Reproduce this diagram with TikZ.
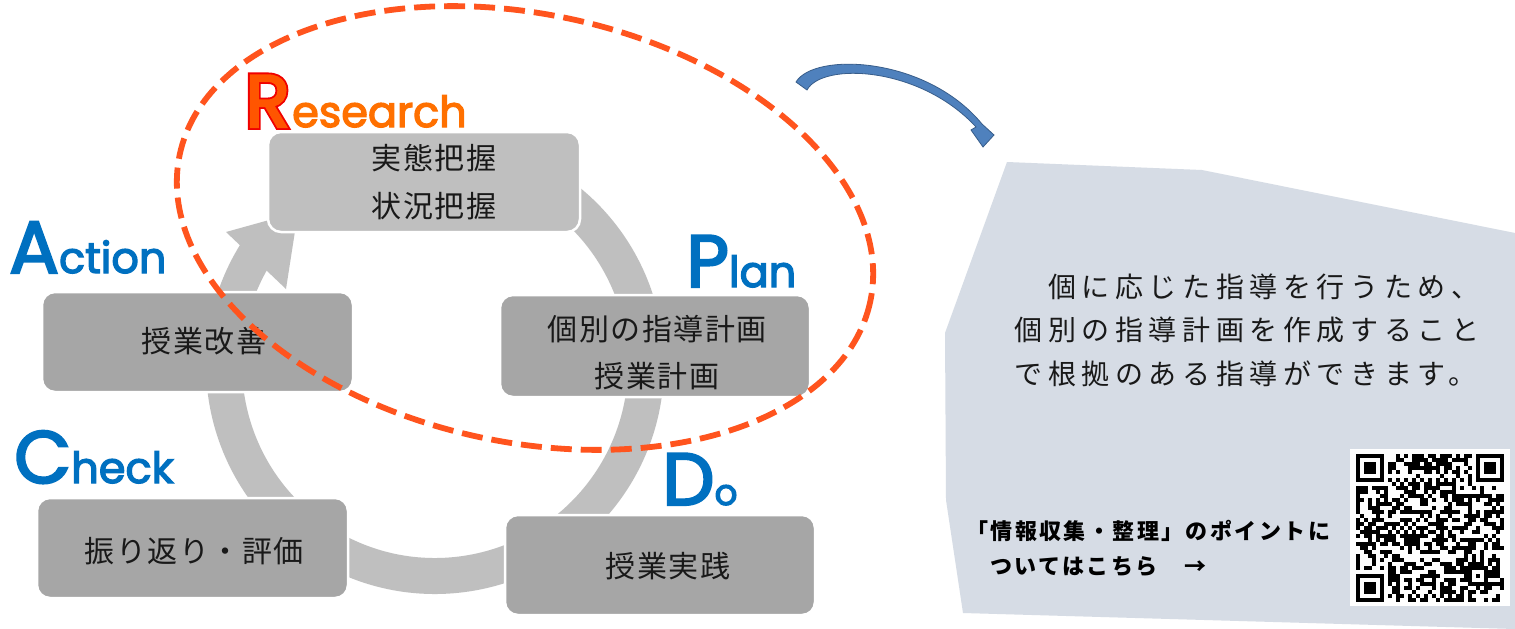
\documentclass[tikz,border=0pt]{standalone}
\usepackage{fontspec}
\newfontfamily\jpbox[LetterSpace=5]{Noto Sans CJK JP}
\newfontfamily\jpmain[LetterSpace=20]{Noto Sans CJK JP}
\newfontfamily\jpsmall[LetterSpace=11]{Noto Sans CJK JP}
\newfontfamily\lat[FakeBold=3]{Poppins}
\newfontfamily\latR[FakeBold=8]{Poppins}
\definecolor{ringgray}{RGB}{191,191,191}
\definecolor{boxgray}{RGB}{166,166,166}
\definecolor{txtdark}{RGB}{25,25,25}
\definecolor{pdcablue}{RGB}{0,112,192}
\definecolor{dashred}{RGB}{255,84,30}
\definecolor{resorange}{RGB}{255,112,0}
\definecolor{rfill}{RGB}{255,85,0}
\definecolor{redge}{RGB}{240,0,0}
\definecolor{calloutbg}{RGB}{214,220,229}
\definecolor{arrblue}{RGB}{79,129,189}
\definecolor{arredge}{RGB}{56,93,138}
\begin{document}
\begin{tikzpicture}[x=1pt,y=-1pt,
  cyclebox/.style={rounded corners=13pt,draw=white,line width=2.5pt,fill=boxgray,inner sep=0pt},
  boxtext/.style={inner sep=0pt,text=txtdark,align=center,font=\jpbox\fontsize{30}{48}\selectfont},
  pdcalabel/.style={inner sep=0pt,anchor=base west,text=pdcablue,font=\lat\fontsize{43}{43}\selectfont},
  capR/.style={inner sep=0pt,anchor=base west,font=\lat\fontsize{74}{74}\selectfont},
  qrmod/.style={fill=black}]
\useasboundingbox (0,0) rectangle (1515,629);
\fill[white] (0,0) rectangle (1515,629);

% callout background
\fill[calloutbg] (1007,162) -- (1202,170) -- (1515,233) -- (1515,629) -- (963,613) -- (946,500) -- (945,333) -- cycle;

% cycle ring with arrow head
\draw[ringgray,line width=36pt] (435,365) ++(-145:211) arc[start angle=-145,end angle=-430,radius=211];
\fill[ringgray] (226,232) -- (298,212) -- (286,289) -- cycle;

% boxes
\node[cyclebox,fill=ringgray,minimum width=312pt,minimum height=100pt] (resbox) at (424,182) {};
\node[cyclebox,minimum width=310pt,minimum height=102pt] (planbox) at (655,346) {};
\node[cyclebox,minimum width=310pt,minimum height=100pt] (dobox) at (660,565) {};
\node[cyclebox,minimum width=311pt,minimum height=100pt] (checkbox) at (192.5,548) {};
\node[cyclebox,minimum width=311pt,minimum height=100pt] (actbox) at (197.5,342) {};

\node[boxtext] (restext) at (434,182) {実態把握\\状況把握};
\node[boxtext,font=\jpbox\fontsize{30}{47}\selectfont] (plantext) at (657,353) {個別の指導計画\\授業計画};
\node[boxtext] (dotext) at (668,566) {授業実践};
\node[boxtext] (checktext) at (194,551.5) {振り返り・評価};
\node[boxtext] (acttext) at (204,341) {授業改善};

% PDCA labels
\node[capR,font=\latR\fontsize{74}{74}\selectfont,text=redge] (rring) at (245,127) {R};
\node[capR,text=rfill] (rcap) at (245,127) {R};
\node[pdcalabel,text=resorange] (research) at (292,127) {esearch};
\node[pdcalabel] (action) at (9,273) {{\fontsize{74}{74}\selectfont A}ction};
\node[pdcalabel] (plan) at (686,287) {{\fontsize{74}{74}\selectfont P}lan};
\node[pdcalabel] (check) at (14,483) {{\fontsize{74}{74}\selectfont C}heck};
\node[pdcalabel] (do) at (662,505) {{\fontsize{74}{74}\selectfont D}{\fontsize{36}{36}\selectfont o}};

% dashed ellipse
\draw[dashred,line width=5.8pt,dash pattern=on 21pt off 9pt,rotate around={-12:(525,228)}] (525,228) ellipse[x radius=353,y radius=214];

% blue curved arrow
\fill[arrblue,draw=arredge,line width=0.8pt] (796,82) .. controls (814,52) and (926,56) .. (982,124) -- (994,135) -- (983,147) -- (971,130) -- (976,127) .. controls (920,66) and (822,62) .. (807,90) -- cycle;

% callout text
\node[inner sep=0pt,align=left,text=txtdark,font=\jpmain\fontsize{28}{43.5}\selectfont] (maintext) at (1247,330) {　個に応じた指導を行うため、\\個別の指導計画を作成すること\\で根拠のある指導ができます。};
\node[inner sep=0pt,anchor=west,text=black,font=\jpsmall\bfseries\fontsize{22}{24}\selectfont] (link1) at (966,531) {「情報収集・整理」のポイントに};
\node[inner sep=0pt,anchor=west,text=black,font=\jpsmall\bfseries\fontsize{22}{24}\selectfont] (link2) at (990,567) {ついてはこちら　→};

% QR code
\fill[white] (1350,449) rectangle (1510,606);
\pgfmathsetseed{4242}
\foreach \i in {0,...,36}{
  \foreach \j in {0,...,36}{
    \pgfmathtruncatemacro\qrres{(((\i<8)&&(\j<8))||((\i>28)&&(\j<8))||((\i<8)&&(\j>28))||((\i>27)&&(\i<33)&&(\j>27)&&(\j<33))||(\i==6)||(\j==6)) ? 0 : (rnd<0.5)}
    \ifnum\qrres=1 \fill[qrmod] ({1356+4*\i},{454+4*\j}) rectangle ++(4.1,4.1);\fi
  }
}
\foreach \t in {8,10,...,28}{
  \fill[qrmod] ({1356+4*\t},478) rectangle ++(4.1,4.1);
  \fill[qrmod] (1380,{454+4*\t}) rectangle ++(4.1,4.1);
}
\foreach \ox/\oy in {0/0,30/0,0/30}{
  \fill[black] ({1356+4*\ox},{454+4*\oy}) rectangle ++(28,28);
  \fill[white] ({1360+4*\ox},{458+4*\oy}) rectangle ++(20,20);
  \fill[black] ({1364+4*\ox},{462+4*\oy}) rectangle ++(12,12);
}
\fill[black] (1468,566) rectangle ++(20,20);
\fill[white] (1472,570) rectangle ++(12,12);
\fill[black] (1476,574) rectangle ++(4,4);
\end{tikzpicture}
\end{document}
